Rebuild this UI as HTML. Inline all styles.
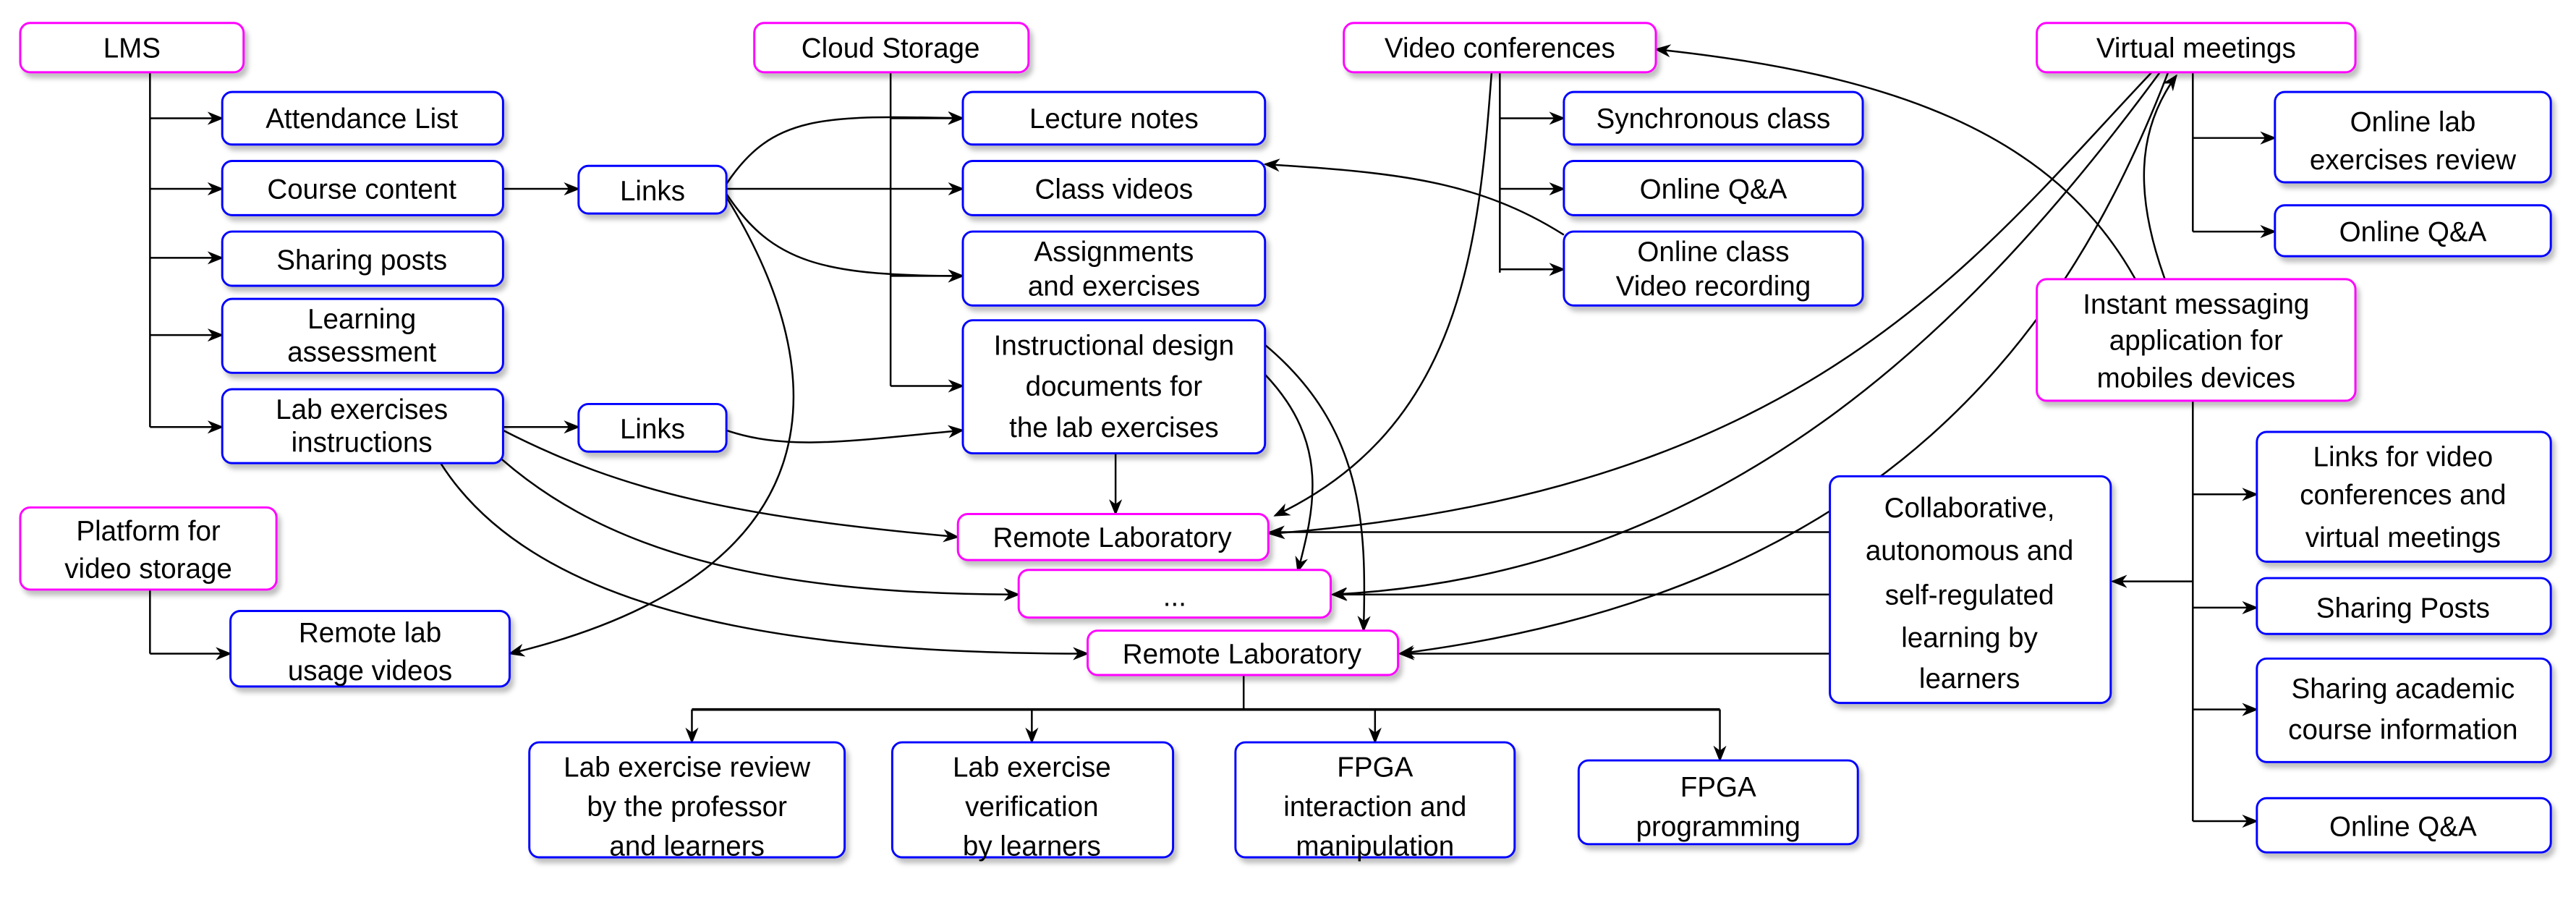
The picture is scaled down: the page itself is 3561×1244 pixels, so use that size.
<!DOCTYPE html>
<html><head><meta charset="utf-8"><style>
html,body{margin:0;padding:0;background:#fff}
svg{display:block}
text{font-family:"Liberation Sans",sans-serif;font-size:17px;fill:#000;text-anchor:middle}
.b{fill:#fff;stroke:#0000ff;stroke-width:1.3}
.p{fill:#fff;stroke:#ff00ff;stroke-width:1.3}
.l{fill:none;stroke:#000;stroke-width:1.1}
.a{fill:none;stroke:#000;stroke-width:1.1;marker-end:url(#ar)}
</style></head><body>
<svg width="3561" height="1244" viewBox="0 0 1568 548" xmlns="http://www.w3.org/2000/svg">
<defs>
<marker id="ar" markerWidth="10" markerHeight="8" refX="9" refY="4" orient="auto" markerUnits="userSpaceOnUse">
<path d="M0,0 L10,4 L0,8 L3,4 Z" fill="#000"/></marker>
<filter id="sh" x="-10%" y="-10%" width="130%" height="140%"><feDropShadow dx="2" dy="3" stdDeviation="1.5" flood-color="#000" flood-opacity="0.25"/></filter>
</defs>

<!-- trunks -->
<path class="l" d="M91,44 V260"/>
<path class="a" d="M91,72 H135"/><path class="a" d="M91,115 H135"/><path class="a" d="M91,157 H135"/><path class="a" d="M91,204 H135"/><path class="a" d="M91,260 H135"/>
<path class="a" d="M306,115 H352"/><path class="a" d="M306,260 H352"/>
<path class="l" d="M542,44 V235"/>
<path class="a" d="M542,72 H586"/><path class="a" d="M542,168 H586"/><path class="a" d="M542,235 H586"/>
<path class="l" d="M913,44 V166"/>
<path class="a" d="M913,72 H952"/><path class="a" d="M913,115 H952"/><path class="a" d="M913,164 H952"/>
<path class="l" d="M1335,44 V141"/>
<path class="a" d="M1335,84 H1385"/><path class="a" d="M1335,141 H1385"/>
<path class="l" d="M1335,244 V500"/>
<path class="a" d="M1335,301 H1374"/><path class="a" d="M1335,370 H1374"/><path class="a" d="M1335,432 H1374"/><path class="a" d="M1335,500 H1374"/>
<path class="a" d="M1335,354 H1286"/>
<path class="l" d="M91,359 V398"/><path class="a" d="M91,398 H140"/>
<path class="a" d="M679,276 V313"/>
<path class="a" d="M1114,324 H773"/><path class="a" d="M1114,362 H811"/><path class="a" d="M1114,398 H852"/>
<path class="l" d="M757,411 V432"/><path class="l" d="M421,432 H1047" style="stroke-width:1.6"/>
<path class="a" d="M421,432 V452"/><path class="a" d="M628,432 V452"/><path class="a" d="M837,432 V452"/><path class="a" d="M1047,432 V463"/>

<!-- curves -->
<path class="a" d="M442,112 C470,70 500,70 586,72"/>
<path class="a" d="M442,115 H586"/>
<path class="a" d="M442,118 C470,160 500,168 586,168"/>
<path class="a" d="M442,120 C510,230 510,350 310,398"/>
<path class="a" d="M442,262 C480,275 520,268 586,262"/>
<path class="a" d="M952,143 C900,110 850,105 770,100"/>
<path class="a" d="M1300,170 C1250,80 1150,45 1008,30"/>
<path class="a" d="M1318,170 C1300,120 1300,80 1325,46"/>
<path class="a" d="M1310,44 C1200,160 1100,300 773,325"/>
<path class="a" d="M1315,44 C1200,200 1050,350 811,362"/>
<path class="a" d="M1320,44 C1260,200 1150,360 852,398"/>
<path class="a" d="M908,44 C900,150 890,260 776,314"/>
<path class="a" d="M306,262 C380,300 450,315 583,327"/>
<path class="a" d="M300,275 C360,330 450,362 620,362"/>
<path class="a" d="M268,282 C330,380 500,398 662,398"/>
<path class="a" d="M770,210 C830,260 832,320 830,384"/>
<path class="a" d="M770,228 C810,270 800,310 790,348"/>

<!-- boxes -->
<g filter="url(#sh)">
<rect class="p" x="12" y="14" width="136" height="30" rx="6"/>
<rect class="p" x="459" y="14" width="167" height="30" rx="6"/>
<rect class="p" x="818" y="14" width="190" height="30" rx="6"/>
<rect class="p" x="1240" y="14" width="194" height="30" rx="6"/>
<rect class="b" x="135" y="56" width="171" height="32" rx="6"/>
<rect class="b" x="135" y="98" width="171" height="33" rx="6"/>
<rect class="b" x="135" y="141" width="171" height="33" rx="6"/>
<rect class="b" x="135" y="182" width="171" height="45" rx="6"/>
<rect class="b" x="135" y="237" width="171" height="45" rx="6"/>
<rect class="b" x="352" y="101" width="90" height="29" rx="6"/>
<rect class="b" x="352" y="246" width="90" height="29" rx="6"/>
<rect class="b" x="586" y="56" width="184" height="32" rx="6"/>
<rect class="b" x="586" y="98" width="184" height="33" rx="6"/>
<rect class="b" x="586" y="141" width="184" height="45" rx="6"/>
<rect class="b" x="586" y="195" width="184" height="81" rx="6"/>
<rect class="b" x="952" y="56" width="182" height="32" rx="6"/>
<rect class="b" x="952" y="98" width="182" height="33" rx="6"/>
<rect class="b" x="952" y="141" width="182" height="45" rx="6"/>
<rect class="b" x="1385" y="56" width="168" height="55" rx="6"/>
<rect class="b" x="1385" y="125" width="168" height="31" rx="6"/>
<rect class="p" x="1240" y="170" width="194" height="74" rx="6"/>
<rect class="b" x="1374" y="263" width="179" height="79" rx="6"/>
<rect class="b" x="1374" y="352" width="179" height="34" rx="6"/>
<rect class="b" x="1374" y="401" width="179" height="63" rx="6"/>
<rect class="b" x="1374" y="486" width="179" height="33" rx="6"/>
<rect class="b" x="1114" y="290" width="171" height="138" rx="6"/>
<rect class="p" x="583" y="313" width="189" height="28" rx="6"/>
<rect class="p" x="620" y="347" width="190" height="29" rx="6"/>
<rect class="p" x="662" y="384" width="189" height="27" rx="6"/>
<rect class="p" x="12" y="309" width="156" height="50" rx="6"/>
<rect class="b" x="140" y="372" width="170" height="46" rx="6"/>
<rect class="b" x="322" y="452" width="192" height="70" rx="6"/>
<rect class="b" x="543" y="452" width="171" height="70" rx="6"/>
<rect class="b" x="752" y="452" width="170" height="70" rx="6"/>
<rect class="b" x="961" y="463" width="170" height="51" rx="6"/>
</g>

<!-- text -->
<text x="80" y="35">LMS</text>
<text x="542" y="35">Cloud Storage</text>
<text x="913" y="35">Video conferences</text>
<text x="1337" y="35">Virtual meetings</text>
<text x="220" y="78">Attendance List</text>
<text x="220" y="121">Course content</text>
<text x="220" y="164">Sharing posts</text>
<text x="220" y="200">Learning</text><text x="220" y="220">assessment</text>
<text x="220" y="255">Lab exercises</text><text x="220" y="275">instructions</text>
<text x="397" y="122">Links</text>
<text x="397" y="267">Links</text>
<text x="678" y="78">Lecture notes</text>
<text x="678" y="121">Class videos</text>
<text x="678" y="159">Assignments</text><text x="678" y="180">and exercises</text>
<text x="678" y="216">Instructional design</text><text x="678" y="241">documents for</text><text x="678" y="266">the lab exercises</text>
<text x="1043" y="78">Synchronous class</text>
<text x="1043" y="121">Online Q&amp;A</text>
<text x="1043" y="159">Online class</text><text x="1043" y="180">Video recording</text>
<text x="1469" y="80">Online lab</text><text x="1469" y="103">exercises review</text>
<text x="1469" y="147">Online Q&amp;A</text>
<text x="1337" y="191">Instant messaging</text><text x="1337" y="213">application for</text><text x="1337" y="236">mobiles devices</text>
<text x="1463" y="284">Links for video</text><text x="1463" y="307">conferences and</text><text x="1463" y="333">virtual meetings</text>
<text x="1463" y="376">Sharing Posts</text>
<text x="1463" y="425">Sharing academic</text><text x="1463" y="450">course information</text>
<text x="1463" y="509">Online Q&amp;A</text>
<text x="1199" y="315">Collaborative,</text><text x="1199" y="341">autonomous and</text><text x="1199" y="368">self-regulated</text><text x="1199" y="394">learning by</text><text x="1199" y="419">learners</text>
<text x="677" y="333">Remote Laboratory</text>
<text x="715" y="369">...</text>
<text x="756" y="404">Remote Laboratory</text>
<text x="90" y="329">Platform for</text><text x="90" y="352">video storage</text>
<text x="225" y="391">Remote lab</text><text x="225" y="414">usage videos</text>
<text x="418" y="473">Lab exercise review</text><text x="418" y="497">by the professor</text><text x="418" y="521">and learners</text>
<text x="628" y="473">Lab exercise</text><text x="628" y="497">verification</text><text x="628" y="521">by learners</text>
<text x="837" y="473">FPGA</text><text x="837" y="497">interaction and</text><text x="837" y="521">manipulation</text>
<text x="1046" y="485">FPGA</text><text x="1046" y="509">programming</text>
</svg>
</body></html>
